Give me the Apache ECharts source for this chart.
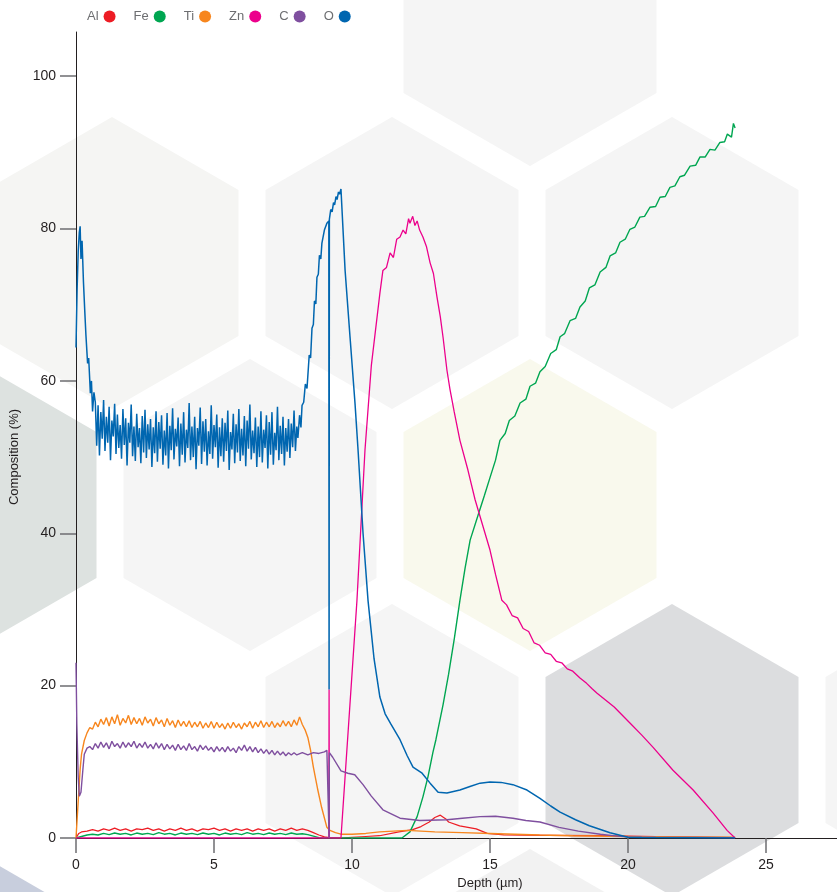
<!DOCTYPE html>
<html>
<head>
<meta charset="utf-8">
<script src="https://cdn.jsdelivr.net/npm/echarts@6/dist/echarts.min.js"></script>
<style>
html,body{margin:0;padding:0;background:#fff;}
#chart{width:837px;height:892px;}
</style>
</head>
<body>
<div id="chart"></div>
<script>
// ---- Data (depth in µm, composition in %) ----
const seriesNames = ['Al', 'Fe', 'Ti', 'Zn', 'C', 'O'];
const seriesColors = ['#ed1c24', '#00a651', '#f7861e', '#ec008c', '#7f4f9f', '#0066b0'];
const seriesWidths = [1.2, 1.4, 1.4, 1.3, 1.4, 1.5];
const xTicks = [0, 5, 10, 15, 20, 25, 30];
const yTicks = [0, 20, 40, 60, 80, 100];

const aluminium = [[0,0],[0.1,0.6],[0.2,0.8],[0.4,0.9],[0.6,1.1],[0.8,0.9],[1.0,1.2],[1.2,1.0],[1.4,1.3],[1.6,1.0],[1.8,1.2],[2.0,0.9],[2.2,1.2],[2.4,1.1],[2.6,1.3],[2.8,1.0],[3.0,1.2],[3.2,0.9],[3.4,1.2],[3.6,1.0],[3.8,1.3],[4.0,1.0],[4.2,1.2],[4.4,0.9],[4.6,1.2],[4.8,1.1],[5.0,1.3],[5.2,1.0],[5.4,1.2],[5.6,0.9],[5.8,1.2],[6.0,1.0],[6.2,1.2],[6.4,0.9],[6.6,1.2],[6.8,1.0],[7.0,1.2],[7.2,0.9],[7.4,1.2],[7.6,1.0],[7.8,1.3],[8.0,1.0],[8.2,1.2],[8.4,1.0],[8.6,0.7],[8.8,0.4],[9.0,0.15],[9.17,0.05],[9.6,0.0],[10.0,0.1],[10.5,0.2],[11.0,0.3],[11.7,0.8],[12.2,1.1],[12.5,1.5],[12.8,2.1],[13.0,2.7],[13.2,3.0],[13.4,2.5],[13.5,2.1],[13.9,1.6],[14.5,1.2],[14.9,0.6],[15.5,0.4],[17,0.35],[19,0.3],[21,0.2],[23,0.1],[23.88,0.05]];

const iron = [[0,0],[0.2,0.2],[0.4,0.4],[0.6,0.5],[0.8,0.4],[1.0,0.6],[1.2,0.45],[1.4,0.65],[1.6,0.5],[1.8,0.6],[2.0,0.4],[2.2,0.65],[2.4,0.5],[2.6,0.6],[2.8,0.45],[3.0,0.7],[3.2,0.5],[3.4,0.6],[3.6,0.4],[3.8,0.65],[4.0,0.5],[4.2,0.6],[4.4,0.45],[4.6,0.65],[4.8,0.5],[5.0,0.6],[5.2,0.4],[5.4,0.65],[5.6,0.5],[5.8,0.6],[6.0,0.45],[6.2,0.7],[6.4,0.5],[6.6,0.6],[6.8,0.45],[7.0,0.65],[7.2,0.5],[7.4,0.6],[7.6,0.45],[7.8,0.65],[8.0,0.5],[8.2,0.55],[8.4,0.45],[8.6,0.25],[8.8,0.05],[9.0,0],[11.81,0],[12.1,0.8],[12.36,2.8],[12.57,5.4],[12.75,8],[12.93,11.2],[13.04,12.9],[13.3,17.5],[13.5,21.5],[13.7,26],[13.91,31.2],[14.1,35.5],[14.28,39.1],[14.57,42.4],[14.8,45],[15.0,47.3],[15.2,49.6],[15.36,52.2],[15.55,53.1],[15.7,54.8],[15.9,55.4],[16.09,57.1],[16.3,57.6],[16.45,59.3],[16.65,59.7],[16.81,61.2],[17.0,61.9],[17.2,63.6],[17.4,64.1],[17.54,65.8],[17.7,66.2],[17.9,67.9],[18.1,68.2],[18.26,69.7],[18.45,70.5],[18.6,72.2],[18.8,72.6],[18.99,74.3],[19.2,74.9],[19.35,76.4],[19.55,76.8],[19.71,78.2],[19.9,78.6],[20.07,79.9],[20.25,80.2],[20.43,81.5],[20.6,81.6],[20.8,82.8],[21.0,82.9],[21.16,84.1],[21.35,84.2],[21.52,85.4],[21.7,85.6],[21.88,86.8],[22.05,87.0],[22.25,88.2],[22.45,88.3],[22.61,89.4],[22.8,89.4],[22.97,90.4],[23.15,90.3],[23.33,91.3],[23.5,91.4],[23.6,92.4],[23.75,92.0],[23.82,93.8],[23.88,93.2]];

const titanium = [[0,0],[0.05,3],[0.1,6],[0.15,9],[0.2,11],[0.3,12.8],[0.4,13.8],[0.5,14.5],[0.6,14.3],[0.7,15.2],[0.8,14.6],[0.9,15.6],[1.0,14.9],[1.1,15.8],[1.2,14.7],[1.3,15.9],[1.4,15.0],[1.5,16.2],[1.6,14.8],[1.7,15.7],[1.8,15.1],[1.9,16.1],[2.0,14.9],[2.1,15.8],[2.2,15.0],[2.3,15.7],[2.4,14.8],[2.5,15.9],[2.6,15.1],[2.7,15.6],[2.8,14.7],[2.9,15.8],[3.0,15.0],[3.1,15.5],[3.2,14.6],[3.3,15.7],[3.4,14.8],[3.5,15.4],[3.6,14.5],[3.7,15.5],[3.8,14.7],[3.9,15.3],[4.0,14.6],[4.1,15.4],[4.2,14.5],[4.3,15.2],[4.4,14.6],[4.5,15.3],[4.6,14.4],[4.7,15.1],[4.8,14.5],[4.9,15.3],[5.0,14.4],[5.1,15.2],[5.2,14.5],[5.3,15.0],[5.4,14.3],[5.5,15.1],[5.6,14.4],[5.7,15.2],[5.8,14.5],[5.9,15.0],[6.0,14.3],[6.1,15.1],[6.2,14.6],[6.3,15.3],[6.4,14.4],[6.5,15.2],[6.6,14.6],[6.7,15.4],[6.8,14.5],[6.9,15.2],[7.0,14.6],[7.1,15.3],[7.2,14.5],[7.3,15.1],[7.4,14.6],[7.5,15.4],[7.6,14.7],[7.7,15.3],[7.8,14.6],[7.9,15.5],[8.0,14.8],[8.1,15.9],[8.2,14.9],[8.3,14.2],[8.4,13.2],[8.5,11.5],[8.6,9.3],[8.75,6.5],[8.9,4],[9.09,1.4],[9.2,1.0],[9.4,0.7],[9.6,0.5],[10.0,0.5],[10.5,0.6],[11.0,0.8],[11.5,0.9],[12.0,1.0],[12.5,0.9],[13.0,0.8],[14.0,0.7],[15.0,0.6],[16.8,0.4],[18.0,0.3],[20.0,0.2],[22.0,0.15],[23.88,0.1]];

const zinc = [[0,0],[9.16,0],[9.17,19.5],[9.18,0],[9.6,0],[10.18,31.2],[10.47,50.9],[10.7,62],[11.01,71.5],[11.12,74.5],[11.25,74.9],[11.38,76.8],[11.5,76.2],[11.62,78.6],[11.74,78.9],[11.85,79.8],[11.95,79.3],[12.05,81.3],[12.10,80.7],[12.2,81.6],[12.28,80.4],[12.36,81.0],[12.45,79.8],[12.57,78.9],[12.7,77.6],[12.83,75.5],[12.95,74.1],[13.08,71],[13.2,68.4],[13.30,65.7],[13.44,61.4],[13.55,58.9],[13.7,56],[13.91,52.2],[14.2,48.3],[14.46,44.4],[15.0,37.8],[15.2,34.6],[15.43,31.2],[15.6,30.6],[15.8,29.2],[16.0,28.9],[16.2,27.5],[16.4,27.1],[16.6,25.6],[16.8,25.3],[17.0,24.3],[17.2,24.1],[17.4,23.2],[17.6,23.0],[17.8,22.2],[18.0,21.9],[18.26,21],[18.5,20.3],[18.7,19.6],[18.88,19],[19.5,17.2],[20.07,15.1],[20.5,13.5],[20.91,11.9],[21.63,8.9],[22.36,6.3],[23.08,3.3],[23.59,1],[23.88,0]];

const carbon = [[0,23],[0.03,15],[0.08,8],[0.12,5.5],[0.18,6],[0.25,9],[0.3,11],[0.4,11.8],[0.5,12],[0.6,11.6],[0.7,12.4],[0.8,11.8],[0.9,12.6],[1.0,11.9],[1.1,12.5],[1.2,11.7],[1.3,12.7],[1.4,12.0],[1.5,12.4],[1.6,11.8],[1.7,12.6],[1.8,11.9],[1.9,12.5],[2.0,12.0],[2.1,12.7],[2.2,11.8],[2.3,12.4],[2.4,11.9],[2.5,12.6],[2.6,11.8],[2.7,12.3],[2.8,11.7],[2.9,12.5],[3.0,11.8],[3.1,12.4],[3.2,11.6],[3.3,12.3],[3.4,11.7],[3.5,12.2],[3.6,11.5],[3.7,12.3],[3.8,11.6],[3.9,12.1],[4.0,11.5],[4.1,12.4],[4.2,11.6],[4.3,12.0],[4.4,11.4],[4.5,12.2],[4.6,11.6],[4.7,12.1],[4.8,11.5],[4.9,11.9],[5.0,11.3],[5.1,12.0],[5.2,11.4],[5.3,11.9],[5.4,11.3],[5.5,12.0],[5.6,11.4],[5.7,11.8],[5.8,11.2],[5.9,12.0],[6.0,11.5],[6.1,12.2],[6.2,11.4],[6.3,12.0],[6.4,11.3],[6.5,11.9],[6.6,11.2],[6.7,11.7],[6.8,11.1],[6.9,11.6],[7.0,11.0],[7.1,11.5],[7.2,10.9],[7.3,11.4],[7.4,10.9],[7.5,11.3],[7.6,10.8],[7.7,11.2],[7.8,10.9],[7.9,11.2],[8.0,10.9],[8.2,11.2],[8.4,10.9],[8.6,11.2],[8.8,11.1],[9.0,11.3],[9.09,11.5],[9.16,11.4],[9.17,0],[9.18,11.2],[9.3,10.6],[9.6,8.8],[9.85,8.5],[10.1,8.3],[10.4,7.0],[10.7,5.5],[11.12,3.7],[11.74,2.6],[12.46,2.3],[13.44,2.4],[14.0,2.6],[14.64,2.8],[15.2,2.85],[15.83,2.6],[16.3,2.3],[16.81,2.1],[17.5,1.4],[18.2,0.9],[19.0,0.5],[19.6,0.25],[20.0,0.15],[21.0,0.1],[23.88,0.05]];

const oxygen = [[0,64.4],[0.04,72],[0.08,77],[0.12,79.5],[0.15,80.3],[0.18,76],[0.22,78.4],[0.27,73],[0.32,69],[0.36,66],[0.42,62.3],[0.46,63],[0.52,58.4],[0.56,60],[0.6,56],[0.65,58.5],
[0.70,57.2],[0.75,51.5],[0.80,56.8],[0.85,50.2],[0.90,55.9],[0.95,52.4],[1.00,57.5],[1.05,50.8],[1.10,55.3],[1.15,51.9],[1.20,56.6],[1.25,49.6],[1.30,54.8],[1.35,52.7],[1.40,57.0],[1.45,50.4],[1.50,55.6],[1.55,51.2],[1.60,54.2],[1.65,49.8],[1.70,56.3],[1.75,51.6],[1.80,55.1],[1.85,48.9],[1.90,54.5],[1.95,51.9],[2.00,56.9],[2.05,50.1],[2.10,54.0],[2.15,49.5],[2.20,55.7],[2.25,51.3],[2.30,53.8],[2.35,49.2],[2.40,55.4],[2.45,50.6],[2.50,56.2],[2.55,49.9],[2.60,54.3],[2.65,51.0],[2.70,55.0],[2.75,48.7],[2.80,53.9],[2.85,50.5],[2.90,56.0],[2.95,49.4],[3.00,54.6],[3.05,51.1],[3.10,55.5],[3.15,49.0],[3.20,53.5],[3.25,50.2],[3.30,55.8],[3.35,48.5],[3.40,54.1],[3.45,50.9],[3.50,56.4],[3.55,49.7],[3.60,53.7],[3.65,51.4],[3.70,55.2],[3.75,48.8],[3.80,54.4],[3.85,50.3],[3.90,55.9],[3.95,49.3],[4.00,53.6],[4.05,51.2],[4.10,57.1],[4.15,49.6],[4.20,54.0],[4.25,50.0],[4.30,55.3],[4.35,48.4],[4.40,53.8],[4.45,51.5],[4.50,56.5],[4.55,49.1],[4.60,54.7],[4.65,50.7],[4.70,55.0],[4.75,48.9],[4.80,53.4],[4.85,50.4],[4.90,56.8],[4.95,49.8],[5.00,54.2],[5.05,51.3],[5.10,55.6],[5.15,48.6],[5.20,53.9],[5.25,50.1],[5.30,55.1],[5.35,49.4],[5.40,54.5],[5.45,50.8],[5.50,56.1],[5.55,48.3],[5.60,53.3],[5.65,51.0],[5.70,55.7],[5.75,49.2],[5.80,54.3],[5.85,50.6],[5.90,56.3],[5.95,49.5],[6.00,53.7],[6.05,50.2],[6.10,55.4],[6.15,48.8],[6.20,54.8],[6.25,51.1],[6.30,56.9],[6.35,49.7],[6.40,53.5],[6.45,50.5],[6.50,55.2],[6.55,48.7],[6.60,54.0],[6.65,50.0],[6.70,56.0],[6.75,49.3],[6.80,53.6],[6.85,51.2],[6.90,55.5],[6.95,48.5],[7.00,54.6],[7.05,50.3],[7.10,55.9],[7.15,49.0],[7.20,53.2],[7.25,50.9],[7.30,56.6],[7.35,49.6],[7.40,54.1],[7.45,50.4],[7.50,55.3],[7.55,48.9],[7.60,53.8],[7.65,50.7],[7.70,55.0],[7.75,49.9],[7.80,54.4],[7.85,51.3],[7.90,56.1],[7.95,50.8],[8.00,54.0],
[8.04,52.5],[8.1,55.5],[8.15,53.9],[8.19,56.8],[8.25,57.2],[8.31,59.6],[8.37,59.0],[8.45,63.4],[8.5,63.0],[8.55,66.9],[8.6,67.4],[8.64,70.5],[8.69,70.1],[8.73,73.6],[8.78,74.0],[8.82,76.5],[8.87,76.0],[8.91,78.1],[8.96,78.3],[9.0,79.8],[9.05,79.6],[9.09,80.7],[9.16,81],[9.17,19.5],[9.18,81.2],[9.23,82.5],[9.28,82.2],[9.33,83.4],[9.37,83.1],[9.42,84.2],[9.46,83.8],[9.51,84.8],[9.55,84.5],[9.6,85.2],[9.75,74.5],[9.93,65.7],[10.11,57],[10.22,50.9],[10.4,40],[10.58,31.2],[10.8,23.5],[11.01,18.5],[11.2,16.3],[11.4,15],[11.74,12.9],[12.0,10.8],[12.21,9.3],[12.54,8.5],[12.83,7.2],[13.12,6.0],[13.44,5.9],[13.91,6.3],[14.3,6.8],[14.64,7.2],[15.0,7.35],[15.4,7.3],[15.83,7.0],[16.34,6.3],[16.81,5.2],[17.2,4.2],[17.54,3.4],[18.1,2.4],[18.6,1.6],[19.35,0.7],[20.0,0.1],[20.5,0.05],[23.88,0.0]];

const seriesData = [aluminium, iron, titanium, zinc, carbon, oxygen];

// ---- Background hexagon decoration ----
const hexes = [
  [530, 20, '#f5f5f5'], [112, 263, '#f5f5f3'], [392, 263, '#f5f5f5'], [672, 263, '#f5f5f5'],
  [-30, 505, '#dde2e0'], [250, 505, '#f5f5f5'], [530, 505, '#f9f9ed'],
  [392, 750, '#f5f5f5'], [672, 750, '#dcdddf'], [952, 750, '#f5f5f5'],
  [-30, 995, '#c8cedd'], [530, 995, '#f2f2f2']
];
function hexPoints(cx, cy) {
  const w = 126.5, s = 146;
  return [[cx, cy - s], [cx + w, cy - s / 2], [cx + w, cy + s / 2], [cx, cy + s], [cx - w, cy + s / 2], [cx - w, cy - s / 2]];
}

const chart = echarts.init(document.getElementById('chart'), null, {renderer: 'canvas'});
const font = '"Liberation Sans", Arial, Helvetica, sans-serif';

chart.setOption({
  animation: false,
  backgroundColor: '#ffffff',
  textStyle: {fontFamily: font},
  graphic: hexes.map(h => ({
    type: 'polygon', silent: true, z: -10,
    shape: {points: hexPoints(h[0], h[1])},
    style: {fill: h[2]}
  })),
  legend: {
    left: 82, top: 5,
    data: seriesNames.map(n => ({name: n, icon: 'circle'})),
    align: 'right',
    itemWidth: 12, itemHeight: 12, itemGap: 18,
    textStyle: {fontSize: 13, color: '#6d6e71', fontFamily: font}
  },
  grid: {left: 76, top: 32, width: 828, bottom: 54, containLabel: false, outerBoundsMode: 'none'},
  xAxis: {
    type: 'value', min: 0, max: 30, interval: 5,
    name: 'Depth (µm)', nameLocation: 'middle', nameGap: 39,
    nameTextStyle: {fontSize: 13, color: '#231f20', fontFamily: font},
    axisLine: {show: true, lineStyle: {color: '#231f20', width: 1}},
    axisTick: {show: true, length: 15, customValues: xTicks, lineStyle: {color: '#6d6e71', width: 1.5}},
    axisLabel: {customValues: xTicks, margin: 20, fontSize: 14, color: '#231f20', fontFamily: font},
    splitLine: {show: false}
  },
  yAxis: {
    type: 'value', min: 0, max: 105.8, interval: 20,
    name: 'Composition (%)', nameLocation: 'middle', nameGap: 55,
    nameTextStyle: {fontSize: 13, color: '#231f20', fontFamily: font, padding: [0, 44, 0, 0]},
    axisLine: {show: true, lineStyle: {color: '#231f20', width: 1}},
    axisTick: {show: true, length: 16, customValues: yTicks, lineStyle: {color: '#6d6e71', width: 1.5}},
    axisLabel: {customValues: yTicks, margin: 20, fontSize: 14, color: '#231f20', fontFamily: font},
    splitLine: {show: false}
  },
  series: seriesNames.map((n, i) => ({
    name: n, type: 'line', data: seriesData[i],
    showSymbol: false, symbol: 'circle', symbolSize: 12,
    color: seriesColors[i],
    itemStyle: {color: seriesColors[i]},
    lineStyle: {color: seriesColors[i], width: seriesWidths[i]},
    clip: true,
    sampling: null
  }))
});
</script>
</body>
</html>
